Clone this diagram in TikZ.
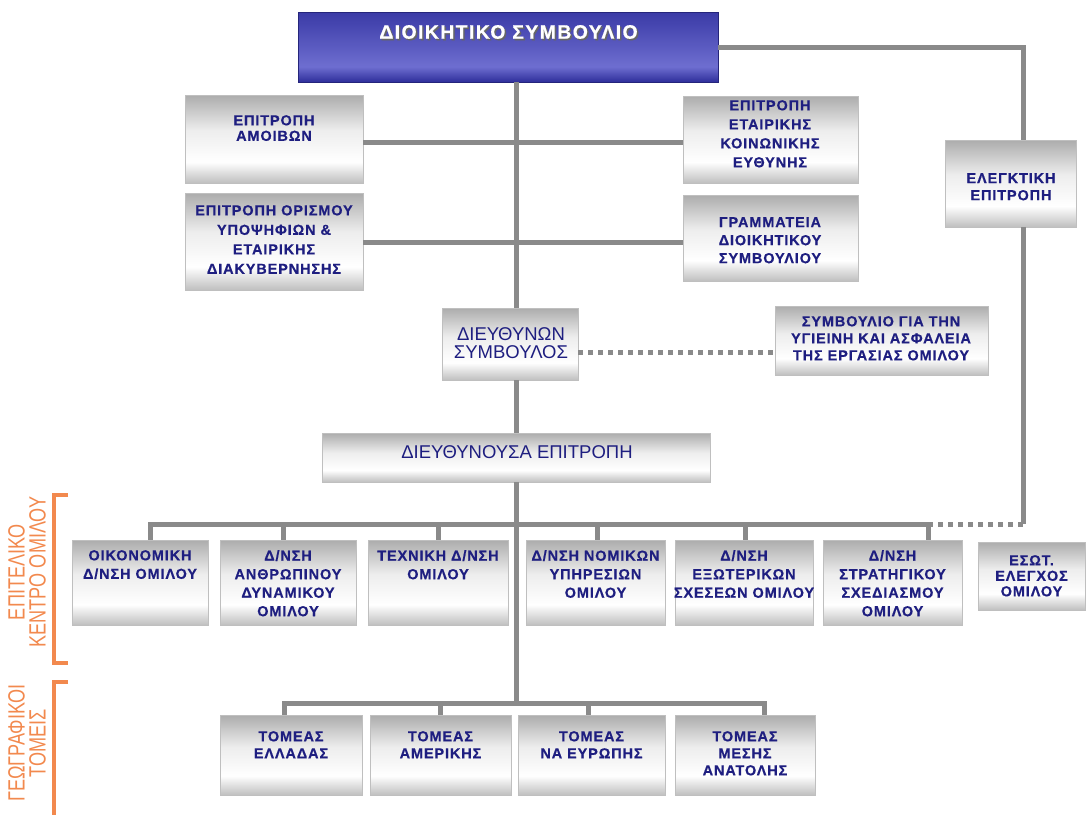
\documentclass[tikz,border=0pt]{standalone}
\usepackage{fontspec}
\setmainfont{Liberation Sans}
\newfontfamily\bxf[LetterSpace=6,BoldFeatures={FakeBold=0.5}]{Liberation Sans}
\newfontfamily\ttlf[LetterSpace=7,BoldFeatures={FakeBold=0.5}]{Liberation Sans}
\usetikzlibrary{calc}
\definecolor{navy}{HTML}{1E1E80}
\definecolor{lnk}{HTML}{8A8A8A}
\definecolor{org}{HTML}{F2894E}
\definecolor{bluetop}{HTML}{3A3AA6}
\definecolor{bluemid}{HTML}{6E6ED0}
\definecolor{bluebot}{HTML}{2E2E9A}
\pgfdeclareverticalshading{greybox}{100bp}{color(0bp)=(gray!50); color(25bp)=(gray!50); color(37bp)=(white); color(55bp)=(gray!14); color(75bp)=(gray!65); color(100bp)=(gray!65)}
\pgfdeclareverticalshading{bluebox}{100bp}{color(0bp)=(bluebot); color(25bp)=(bluebot); color(36bp)=(bluemid); color(75bp)=(bluetop); color(100bp)=(bluetop)}
\newcommand\myfs[2]{\fontsize{#1}{#2}\selectfont}
\newcommand\obox[6][box]{\node[#1,minimum width={#5-#3},minimum height={#6-#4}] (#2) at ({(#3+#5)/2},{(#4+#6)/2}) {};}
\begin{document}
\begin{tikzpicture}[x=1pt,y=-1pt,
  box/.style={shading=greybox,draw=gray!50,line width=0.5pt,inner sep=0pt,outer sep=0pt},
  bbox/.style={shading=bluebox,draw=bluebot!80!black,line width=0.8pt,inner sep=0pt,outer sep=0pt},
  lbl/.style={anchor=north,align=center,inner sep=0pt,text=navy},
  blbl/.style={lbl,font=\bxf\bfseries\myfs{14.5}{#1}},
  rlbl/.style={lbl,font=\myfs{18.5}{#1}},
  link/.style={draw=lnk,line width=5pt},
  dotlink/.style={link,dash pattern=on 5pt off 5pt},
  side/.style={rotate=90,xscale=0.77,align=center,text=org,inner sep=0pt,font=\myfs{23.5}{21}},
  brk/.style={draw=org,line width=4pt}]
\useasboundingbox (0,0) rectangle (1087,814);

% boxes
\obox[bbox]{dc}{298}{12}{718}{82}
\obox{amoib}{185}{95}{363}{183}
\obox{orism}{185}{193}{363}{290}
\obox{etair}{683}{96}{858}{183}
\obox{gramm}{683}{195}{858}{281}
\obox{elegk}{945}{140}{1076}{227}
\obox{dsym}{442}{308}{578}{380}
\obox{sygi}{775}{306}{988}{375}
\obox{dep}{322}{433}{710}{482}
\obox{r1}{72}{540}{208}{625}
\obox{r2}{220}{540}{356}{625}
\obox{r3}{368}{540}{508}{625}
\obox{r4}{526}{540}{665}{625}
\obox{r5}{675}{540}{813}{625}
\obox{r6}{823}{540}{962}{625}
\obox{r7}{978}{542}{1085}{610}
\obox{t1}{220}{715}{362}{795}
\obox{t2}{370}{715}{511}{795}
\obox{t3}{518}{715}{665}{795}
\obox{t4}{675}{715}{815}{795}

% texts
\node[text=black!60,inner sep=0pt,font=\ttlf\bfseries\myfs{19.5}{22}] (dcsh) at (510,33.5) {ΔΙΟΙΚΗΤΙΚΟ ΣΥΜΒΟΥΛΙΟ};
\node[text=white,inner sep=0pt,font=\ttlf\bfseries\myfs{19.5}{22}] (dctxt) at (508.5,32) {ΔΙΟΙΚΗΤΙΚΟ ΣΥΜΒΟΥΛΙΟ};
\node[blbl=15.5] (amoibt) at (274,115) {ΕΠΙΤΡΟΠΗ\\ΑΜΟΙΒΩΝ};
\node[blbl=19.5] (orismt) at (274,205) {ΕΠΙΤΡΟΠΗ ΟΡΙΣΜΟΥ\\ΥΠΟΨΗΦΙΩΝ \&\\ΕΤΑΙΡΙΚΗΣ\\ΔΙΑΚΥΒΕΡΝΗΣΗΣ};
\node[blbl=19] (etairt) at (770,100) {ΕΠΙΤΡΟΠΗ\\ΕΤΑΙΡΙΚΗΣ\\ΚΟΙΝΩΝΙΚΗΣ\\ΕΥΘΥΝΗΣ};
\node[blbl=18] (grammt) at (770,217) {ΓΡΑΜΜΑΤΕΙΑ\\ΔΙΟΙΚΗΤΙΚΟΥ\\ΣΥΜΒΟΥΛΙΟΥ};
\node[blbl=17] (elegkt) at (1011,173) {ΕΛΕΓΚΤΙΚΗ\\ΕΠΙΤΡΟΠΗ};
\node[rlbl=18] (dsymt) at (511,327) {ΔΙΕΥΘΥΝΩΝ\\ΣΥΜΒΟΥΛΟΣ};
\node[blbl=17] (sygit) at (881,316) {ΣΥΜΒΟΥΛΙΟ ΓΙΑ ΤΗΝ\\ΥΓΙΕΙΝΗ ΚΑΙ ΑΣΦΑΛΕΙΑ\\ΤΗΣ ΕΡΓΑΣΙΑΣ ΟΜΙΛΟΥ};
\node[rlbl=22] (dept) at (517,445) {ΔΙΕΥΘΥΝΟΥΣΑ ΕΠΙΤΡΟΠΗ};
\node[blbl=18.5] (r1t) at (140,550) {ΟΙΚΟΝΟΜΙΚΗ\\Δ/ΝΣΗ ΟΜΙΛΟΥ};
\node[blbl=18.5] (r2t) at (288,550) {Δ/ΝΣΗ\\ΑΝΘΡΩΠΙΝΟΥ\\ΔΥΝΑΜΙΚΟΥ\\ΟΜΙΛΟΥ};
\node[blbl=18.5] (r3t) at (438,550) {ΤΕΧΝΙΚΗ Δ/ΝΣΗ\\ΟΜΙΛΟΥ};
\node[blbl=18.5] (r4t) at (595.5,550) {Δ/ΝΣΗ ΝΟΜΙΚΩΝ\\ΥΠΗΡΕΣΙΩΝ\\ΟΜΙΛΟΥ};
\node[blbl=18.5] (r5t) at (744,550) {Δ/ΝΣΗ\\ΕΞΩΤΕΡΙΚΩΝ\\ΣΧΕΣΕΩΝ ΟΜΙΛΟΥ};
\node[blbl=18.5] (r6t) at (892.5,550) {Δ/ΝΣΗ\\ΣΤΡΑΤΗΓΙΚΟΥ\\ΣΧΕΔΙΑΣΜΟΥ\\ΟΜΙΛΟΥ};
\node[blbl=15.5] (r7t) at (1031.5,555) {ΕΣΩΤ.\\ΕΛΕΓΧΟΣ\\ΟΜΙΛΟΥ};
\node[blbl=17] (t1t) at (291,731) {ΤΟΜΕΑΣ\\ΕΛΛΑΔΑΣ};
\node[blbl=17] (t2t) at (440.5,731) {ΤΟΜΕΑΣ\\ΑΜΕΡΙΚΗΣ};
\node[blbl=17] (t3t) at (591.5,731) {ΤΟΜΕΑΣ\\ΝΑ ΕΥΡΩΠΗΣ};
\node[blbl=17] (t4t) at (745,731) {ΤΟΜΕΑΣ\\ΜΕΣΗΣ\\ΑΝΑΤΟΛΗΣ};

% side labels
\node[side] (sidea) at (27,572) {ΕΠΙΤΕΛΙΚΟ\\ΚΕΝΤΡΟ ΟΜΙΛΟΥ};
\node[side] (sideb) at (27,743) {ΓΕΩΓΡΑΦΙΚΟΙ\\ΤΟΜΕΙΣ};
\draw[brk] (68,495) -- (54,495) -- (54,663) -- (68,663);
\draw[brk] (68,682) -- (54,682) -- (54,816);

% helper coordinates
\coordinate (tx) at (516,0);
\coordinate (rx) at (1023,0);
\coordinate (h1) at (0,142);
\coordinate (h2) at (0,242);
\coordinate (dl) at (0,352);
\coordinate (d1) at (150,524);
\coordinate (d2) at (283,524);
\coordinate (d3) at (438,524);
\coordinate (d4) at (597,524);
\coordinate (d5) at (745,524);
\coordinate (d6) at (928,524);
\coordinate (e1) at (284,703);
\coordinate (e2) at (440,703);
\coordinate (e3) at (588,703);
\coordinate (e4) at (764,703);

% connectors
\draw[link] (tx |- dc.south) -- (tx |- dsym.north);
\draw[link] (tx |- dsym.south) -- (tx |- dep.north);
\draw[link] (tx |- dep.south) -- (tx |- e1);
\draw[link] (amoib.east |- h1) -- (etair.west |- h1);
\draw[link] (orism.east |- h2) -- (gramm.west |- h2);
\draw[link] (dc.east) -- (rx |- dc.east) -- (rx |- elegk.north);
\draw[link] (rx |- elegk.south) -- (rx |- d6);
\draw[dotlink] (d6) -- (rx |- d6);
\draw[dotlink] (dsym.east |- dl) -- (sygi.west |- dl);
\draw[link] (d1 |- r1.north) -- (d1) -- (d6) -- (d6 |- r6.north);
\draw[link] (d2) -- (d2 |- r2.north);
\draw[link] (d3) -- (d3 |- r3.north);
\draw[link] (d4) -- (d4 |- r4.north);
\draw[link] (d5) -- (d5 |- r5.north);
\draw[link] (e1 |- t1.north) -- (e1) -- (e4) -- (e4 |- t4.north);
\draw[link] (e2) -- (e2 |- t2.north);
\draw[link] (e3) -- (e3 |- t3.north);
\end{tikzpicture}
\end{document}
